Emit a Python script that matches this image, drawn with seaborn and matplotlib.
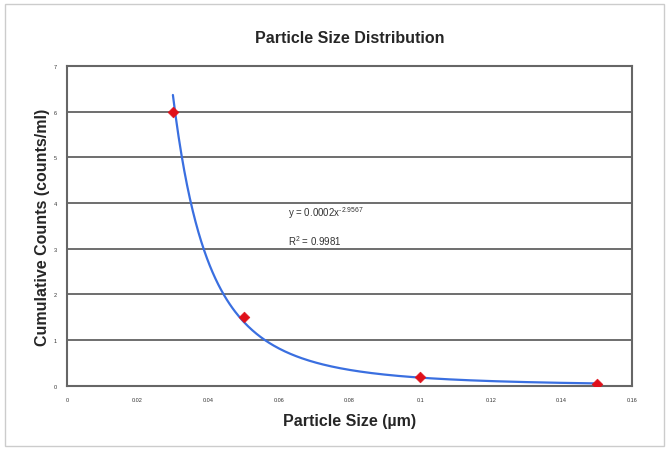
import numpy as np
import pandas as pd
import matplotlib
matplotlib.use("Agg")
import matplotlib.pyplot as plt
import seaborn as sns

# Data
sizes = [0.03, 0.05, 0.10, 0.15]
counts = [6.0, 1.5, 0.2, 0.05]
coef_a = 0.0002
coef_b = -2.9567
r_squared = 0.9981
x_ticks = [0, 0.02, 0.04, 0.06, 0.08, 0.1, 0.12, 0.14, 0.16]
x_tick_labels = ["0", "0.02", "0.04", "0.06", "0.08", "0.1", "0.12", "0.14", "0.16"]
y_ticks = [0, 1, 2, 3, 4, 5, 6, 7]

sns.set_theme(style="white")
plt.rcParams['font.family'] = ['Liberation Sans', 'DejaVu Sans']
plt.rcParams['mathtext.default'] = 'regular'

fig = plt.figure(figsize=(6.69, 4.52), dpi=100)
ax = fig.add_axes([0.100, 0.144, 0.845, 0.708])

# Trendline from the fitted power law
xf = np.linspace(min(sizes), max(sizes), 300)
trend = pd.DataFrame({"x": xf, "y": coef_a * xf ** coef_b})
sns.lineplot(data=trend, x="x", y="y", ax=ax, color="#3a6fe0", lw=1.6, zorder=3)

pts = pd.DataFrame({"size": sizes, "count": counts})
sns.scatterplot(data=pts, x="size", y="count", ax=ax, marker="D", s=30,
                color="#e0101a", edgecolor="#e0101a", zorder=4)

ax.set_xlim(0, 0.16)
ax.set_ylim(0, 7)
ax.set_xticks(x_ticks)
ax.set_xticklabels(x_tick_labels)
ax.set_yticks(y_ticks)
ax.tick_params(axis="both", labelsize=4, colors="#333333", length=2, width=0.8, direction="out")
ax.tick_params(axis="x", pad=6)
ax.tick_params(axis="y", pad=5)
ax.yaxis.grid(True, color="#555555", lw=1.2)
ax.xaxis.grid(False)
for sp in ax.spines.values():
    sp.set_color("#666666")
    sp.set_linewidth(1.5)

ax.set_xlabel("Particle Size (µm)", fontsize=11.5, fontweight="bold", labelpad=8)
ax.set_ylabel("Cumulative Counts (counts/ml)", fontsize=11.5, fontweight="bold", labelpad=3)
ax.set_title("Particle Size Distribution", fontsize=11.5, fontweight="bold", pad=17)

exp_txt = "%.4f" % coef_b
ax.text(0.0626, 3.8, "y = %.4fx" % coef_a + r"$^{" + exp_txt.replace("-", "\u2010") + "}$",
        fontsize=7, color="#333333", va="center")
ax.text(0.0626, 3.2, r"R$^{2}$ = %.4f" % r_squared, fontsize=7, color="#333333", va="center")

# outer light frame
fig.patches.append(plt.Rectangle((0.008, 0.012), 0.984, 0.976, transform=fig.transFigure,
                                 fill=False, edgecolor="#cccccc", lw=1.0))

fig.savefig("out.png", dpi=100)
